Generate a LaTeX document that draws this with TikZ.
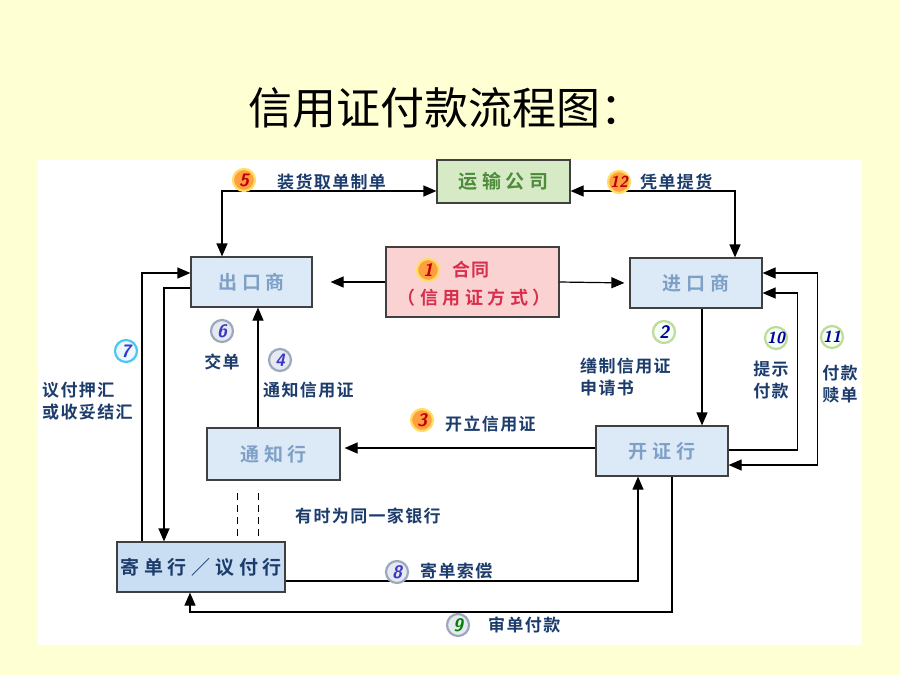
\documentclass[tikz,border=0pt]{standalone}
\usepackage{fontspec}
\usetikzlibrary{arrows.meta}
\newfontfamily\cjk{Noto Sans CJK SC}
\newfontfamily\cjkb[LetterSpace=8]{Noto Sans CJK SC Bold}
\newfontfamily\cjkw[LetterSpace=25]{Noto Sans CJK SC Bold}
\definecolor{paper}{HTML}{FFFFD4}
\definecolor{boxfill}{HTML}{DCEAF7}
\definecolor{boxtext}{HTML}{7EA0C6}
\definecolor{negfill}{HTML}{C9DEF3}
\definecolor{navy}{HTML}{1C3C6C}
\definecolor{shipfill}{HTML}{D6EAC6}
\definecolor{shiptext}{HTML}{4E8C3C}
\definecolor{pactfill}{HTML}{FAD2D2}
\definecolor{pacttext}{HTML}{D8304C}
\definecolor{ring}{HTML}{9CA8BE}
\tikzset{
  box/.style={draw=black!75, line width=1.2pt, inner sep=0pt, fill=boxfill,
    text=boxtext, font=\cjkw\fontsize{19}{19}\selectfont},
  lbl/.style={text=navy, inner sep=0pt, align=left,
    font=\cjkb\fontsize{17}{22}\selectfont},
  badge/.style={circle, inner sep=0pt, minimum size=22pt, line width=2.2pt,
    font=\sffamily\bfseries\itshape\fontsize{18}{18}\selectfont},
  twodigit/.style={font=\sffamily\bfseries\itshape\fontsize{16}{16}\selectfont},
  obadge/.style={badge, draw=orange!45!yellow!60, fill=orange!75, text=red!75!black},
  bbadge/.style={badge, draw=ring, fill=ring!25, text=blue!55!gray},
  gbadge/.style={badge, draw=green!30!olive!40, fill=green!4, text=blue!60!black},
  cbadge/.style={badge, draw=cyan!70, fill=cyan!8, text=blue!55!gray},
  arr/.style={line width=1.2pt, -{Triangle[length=13pt,width=11pt]}},
  arrr/.style={line width=1.2pt, {Triangle[length=13pt,width=11pt]}-{Triangle[length=13pt,width=11pt]}}
}
\begin{document}
\begin{tikzpicture}[x=1pt,y=-1pt]
\useasboundingbox (0,0) rectangle (900,675);
\fill[paper] (0,0) rectangle (900,675);
\fill[white] (38,160) rectangle (862,645);
\node[anchor=west, inner sep=0pt, font=\cjk\fontsize{44}{44}\selectfont] (title) at (248,108) {信用证付款流程图：};

\node[box, fill=shipfill, text=shiptext, minimum width=133pt, minimum height=43pt] (ship) at (503.5,181.5) {运输公司};
\node[box, minimum width=121pt, minimum height=50pt] (exp) at (251.5,282) {出口商};
\node[box, fill=pactfill, minimum width=173pt, minimum height=70pt] (pact) at (472.5,282) {};
\node[box, minimum width=132pt, minimum height=50pt] (imp) at (696,283) {进口商};
\node[box, minimum width=133pt, minimum height=52pt] (adv) at (273.5,454) {通知行};
\node[box, minimum width=132pt, minimum height=50pt] (iss) at (662,451) {开证行};
\node[box, fill=negfill, text=navy, minimum width=168pt, minimum height=50pt] (neg) at (201,567) {寄单行／议付行};

\node[obadge] (n1) at (428,270) {1};
\node[anchor=west, inner sep=0pt, text=pacttext, font=\cjkb\fontsize{18}{18}\selectfont] (t1) at (452,270) {合同};
\node[inner sep=0pt, text=pacttext, font=\cjkw\fontsize{18}{18}\selectfont] (t1b) at (474,298) {（信用证方式）};

\draw[arr, shorten >=18pt] (pact.west) -- (exp.east);
\draw[arr, shorten >=5pt] (pact.east) -- (imp.west);
\draw[arr] ([xshift=6pt]imp.south) -- ([xshift=40pt]iss.north);
\draw[arr, shorten >=4pt] ([yshift=3pt]iss.west) -- ([yshift=3pt]iss.west -| adv.east);
\draw[arr] ([xshift=-15.5pt]adv.north) -- ([xshift=-15.5pt]adv.north |- exp.south);
\draw[arrr] ([xshift=-29.5pt]exp.north) |- ([yshift=-9.5pt]ship.west);
\draw[arrr] ([yshift=-9.5pt]ship.east) -| ([xshift=39pt]imp.north);
\draw[arr] ([yshift=-6pt]exp.west) -| ([xshift=-37pt]neg.north);
\draw[arr] ([xshift=-59pt]neg.north) |- ([yshift=9pt]exp.west);
\draw[arr] ([yshift=1pt]iss.east) -- ++(69,0) |- ([yshift=-10pt]imp.east);
\draw[arrr] ([yshift=10pt]imp.east) -- ++(55,0) |- ([yshift=-14pt]iss.east);
\draw[arr] ([yshift=-14pt]neg.east) -| ([xshift=-24pt]iss.south);
\coordinate (c9) at (190,612);
\draw[arr] ([xshift=10pt]iss.south) |- (c9) -- (c9 |- neg.south);
\foreach \x in {237,258}
  \draw[line width=1pt, dash pattern=on 7pt off 5pt] (\x,493) -- (\x,540);

\node[obadge] (n5) at (244,180) {5};
\node[lbl, anchor=west] (t5) at (277,182) {装货取单制单};
\node[obadge, twodigit] (n12) at (619,182) {12};
\node[lbl, anchor=west] (t12) at (640,182) {凭单提货};
\node[bbadge] (n6) at (222,331) {6};
\node[lbl] (t6) at (222,362) {交单};
\node[bbadge] (n4) at (280,360) {4};
\node[lbl, anchor=west] (t4) at (263,390) {通知信用证};
\node[cbadge] (n7) at (126,351) {7};
\node[lbl, anchor=west] (t7) at (42,401) {议付押汇\\或收妥结汇};
\node[gbadge] (n2) at (664,332) {2};
\node[lbl, anchor=west] (t2) at (580,377) {缮制信用证\\申请书};
\node[gbadge, twodigit] (n10) at (776,338) {10};
\node[lbl] (t10) at (771,380) {提示\\付款};
\node[gbadge, twodigit] (n11) at (832,337) {11};
\node[lbl] (t11) at (840,384) {付款\\赎单};
\node[obadge] (n3) at (422,420) {3};
\node[lbl, anchor=west] (t3) at (445,424) {开立信用证};
\node[lbl, anchor=west] (same) at (295,516) {有时为同一家银行};
\node[bbadge] (n8) at (397,572) {8};
\node[lbl, anchor=west] (t8) at (420,571) {寄单索偿};
\node[bbadge, text=green!50!black] (n9) at (458,625) {9};
\node[lbl, anchor=west] (t9) at (488,625) {审单付款};
\end{tikzpicture}
\end{document}
